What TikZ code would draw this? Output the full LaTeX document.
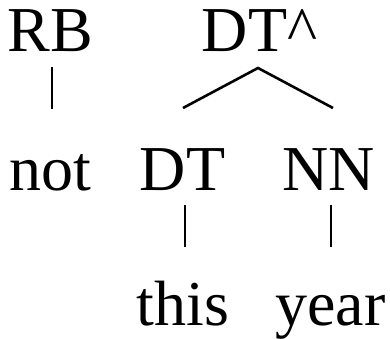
\documentclass[tikz,border=0pt]{standalone}
\usepackage{fontspec}
\setmainfont{Liberation Serif}

\begin{document}
\begin{tikzpicture}[x=1pt, y=-1pt, line width=2.6pt,
    tag/.style={anchor=base, inner sep=0pt, font=\fontsize{64}{70}\selectfont}]
    \useasboundingbox (0,0) rectangle (390,339);
    \node [tag] (rb) at (50.5,52) {RB};
    \node [tag] (dtc) at (259.5,52) {DT\textasciicircum};
    \node [tag] (not) at (50.5,190) {not};
    \node [tag] (dt) at (182.5,190) {DT};
    \node [tag] (nn) at (328.5,190) {NN};
    \node [tag] (this) at (183,325) {this};
    \node [tag] (year) at (330.5,325) {year};
    \draw ([xshift=1.5pt, yshift=-15pt]rb.base) -- ([xshift=1.5pt, yshift=81pt]not.base);
    \draw ([xshift=0.5pt, yshift=82pt]dt.base) -- ([xshift=-1.5pt, yshift=-16pt]dtc.base)
        -- ([xshift=4.5pt, yshift=82pt]nn.base);
    \draw ([xshift=2.5pt, yshift=-15pt]dt.base) -- ([xshift=2pt, yshift=78pt]this.base);
    \draw ([xshift=2.5pt, yshift=-15pt]nn.base) -- ([xshift=0.5pt, yshift=78pt]year.base);
\end{tikzpicture}
\end{document}
